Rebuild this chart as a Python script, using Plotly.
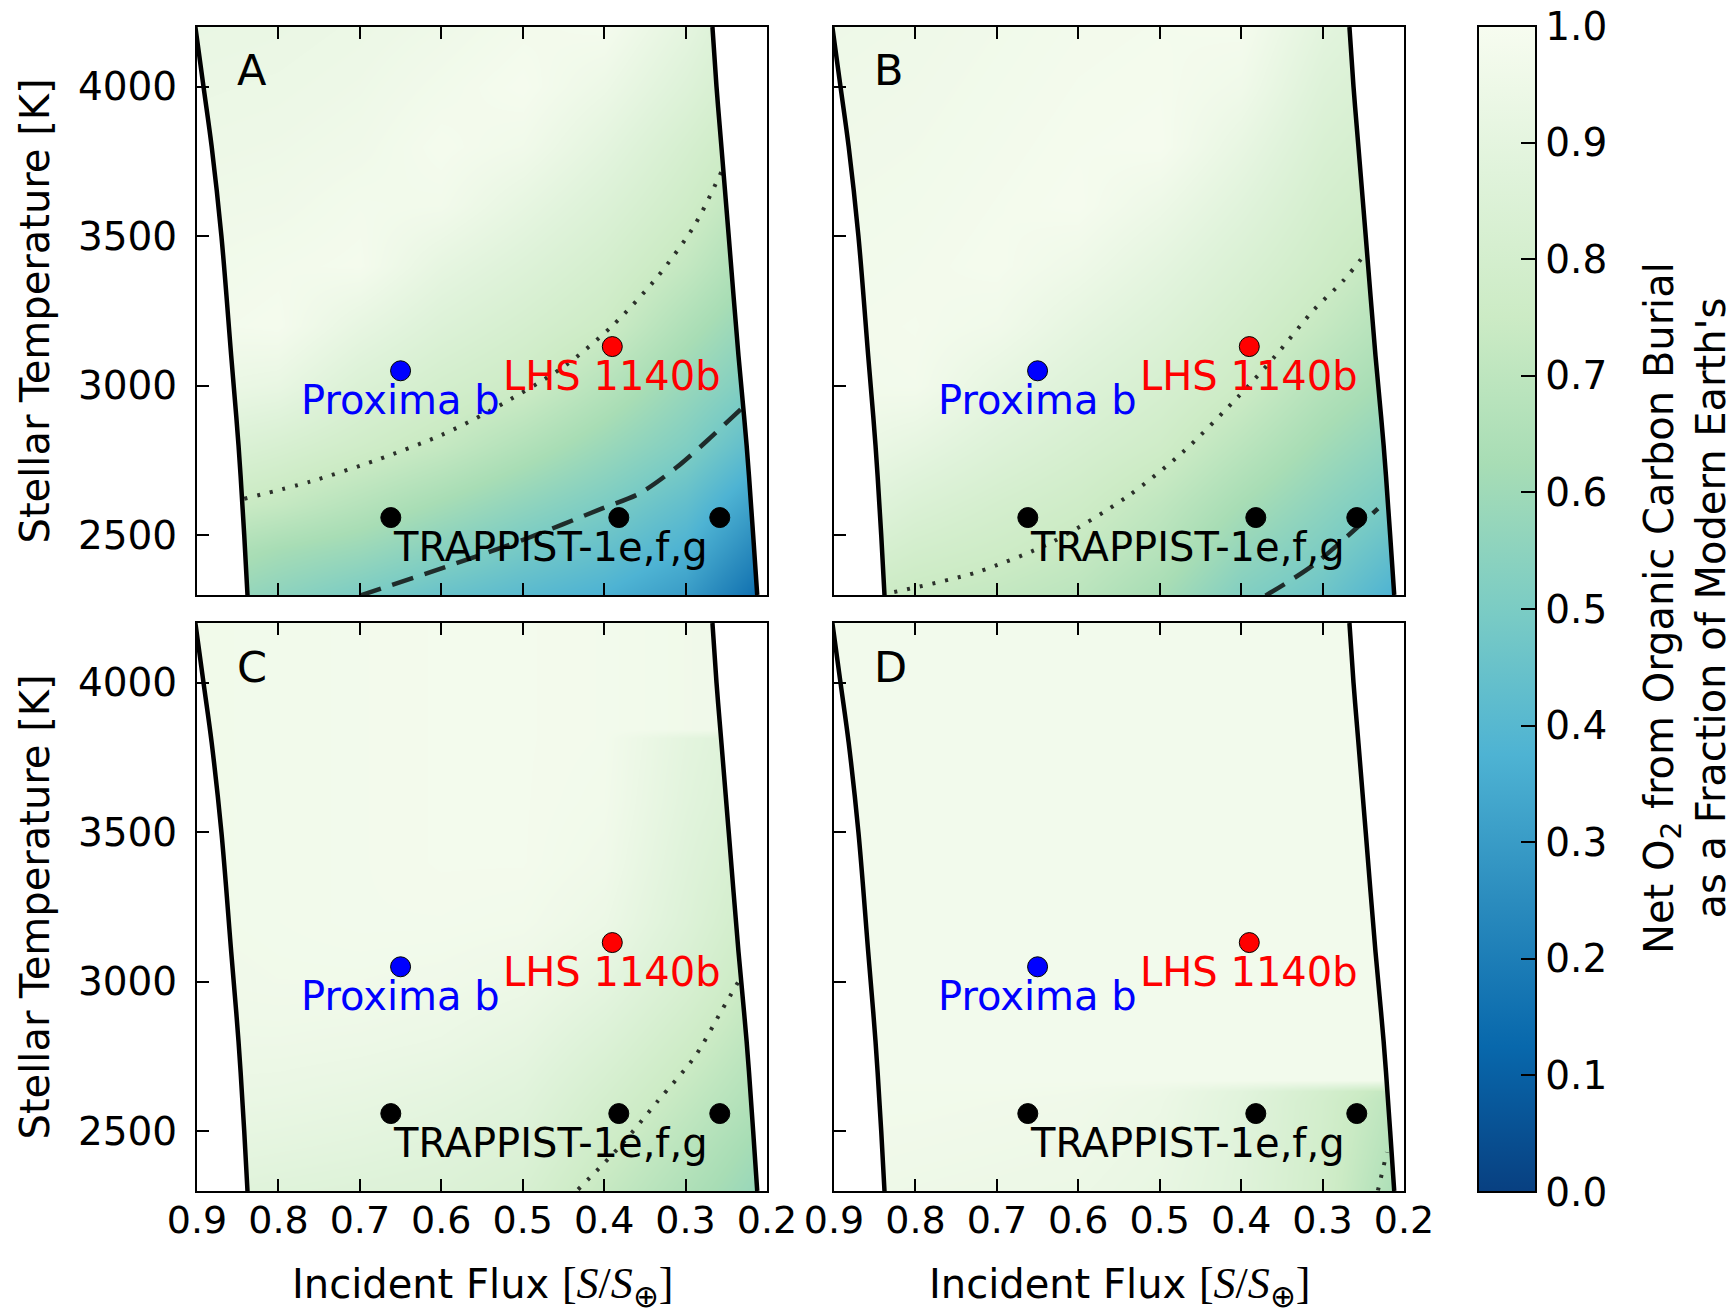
import plotly.graph_objects as go

# the page body adds an 8 px margin; the figure is sized so the page is 1736 x 1313
PAGE_MARGIN = 8
W, H = 1736 - PAGE_MARGIN, 1313 - PAGE_MARGIN


def px_x(v):
    return (v - PAGE_MARGIN) / W


def px_y(v):
    return 1 - (v - PAGE_MARGIN) / H


# ---------------- data ----------------
X_RANGE = [0.9, 0.2]
Y_RANGE = [2300, 4200]
X_TICKS = [0.9, 0.8, 0.7, 0.6, 0.5, 0.4, 0.3, 0.2]
Y_TICKS = [2500, 3000, 3500, 4000]
CB_TICKS = [0.0, 0.1, 0.2, 0.3, 0.4, 0.5, 0.6, 0.7, 0.8, 0.9, 1.0]

FLUX_GRID = [0.9, 0.8, 0.7, 0.6, 0.5, 0.4, 0.3, 0.2]
TEFF_GRID = [2300, 2450, 2600, 2800, 3000, 3200, 3400, 3600, 3800, 4000, 4200]
TEFF_GRID_C = [2300, 2450, 2600, 2800, 3000, 3200, 3400, 3600, 3815, 3845, 4200]
TEFF_GRID_D = [2300, 2450, 2600, 2635, 2670, 2800, 3200, 3600, 4000, 4200]

# rows: Teff (ascending), columns: flux 0.9 -> 0.2
Z_A = [
    [0.60, 0.55, 0.50, 0.45, 0.41, 0.37, 0.30, 0.13],
    [0.67, 0.62, 0.586, 0.533, 0.483, 0.44, 0.37, 0.21],
    [0.76, 0.725, 0.672, 0.616, 0.558, 0.503, 0.43, 0.29],
    [0.86, 0.82, 0.773, 0.725, 0.659, 0.589, 0.515, 0.40],
    [0.94, 0.92, 0.843, 0.795, 0.755, 0.674, 0.58, 0.49],
    [0.975, 0.985, 0.913, 0.853, 0.807, 0.755, 0.65, 0.55],
    [0.965, 0.975, 0.983, 0.91, 0.859, 0.802, 0.72, 0.61],
    [0.955, 0.96, 0.975, 0.97, 0.912, 0.849, 0.77, 0.67],
    [0.945, 0.95, 0.96, 0.985, 0.964, 0.896, 0.81, 0.72],
    [0.935, 0.94, 0.95, 0.97, 0.99, 0.943, 0.86, 0.76],
    [0.925, 0.93, 0.94, 0.955, 0.975, 0.985, 0.90, 0.79],
]
Z_B = [
    [0.77, 0.74, 0.72, 0.69, 0.62, 0.52, 0.463, 0.36],
    [0.84, 0.79, 0.763, 0.73, 0.67, 0.572, 0.507, 0.42],
    [0.90, 0.84, 0.80, 0.766, 0.706, 0.623, 0.55, 0.48],
    [0.95, 0.91, 0.856, 0.813, 0.769, 0.69, 0.609, 0.54],
    [0.97, 0.975, 0.91, 0.86, 0.813, 0.755, 0.667, 0.60],
    [0.975, 0.98, 0.963, 0.907, 0.857, 0.796, 0.726, 0.65],
    [0.97, 0.975, 0.985, 0.954, 0.90, 0.837, 0.77, 0.70],
    [0.965, 0.97, 0.98, 0.99, 0.945, 0.878, 0.80, 0.75],
    [0.96, 0.965, 0.975, 0.985, 0.99, 0.918, 0.83, 0.78],
    [0.955, 0.96, 0.97, 0.98, 0.985, 0.96, 0.86, 0.81],
    [0.95, 0.955, 0.965, 0.975, 0.98, 0.985, 0.89, 0.84],
]
Z_C = [
    [0.88, 0.87, 0.86, 0.85, 0.82, 0.73, 0.65, 0.57],
    [0.91, 0.90, 0.89, 0.875, 0.85, 0.765, 0.685, 0.60],
    [0.93, 0.925, 0.915, 0.90, 0.875, 0.80, 0.72, 0.64],
    [0.95, 0.95, 0.945, 0.935, 0.91, 0.85, 0.77, 0.68],
    [0.96, 0.965, 0.965, 0.96, 0.945, 0.90, 0.82, 0.72],
    [0.965, 0.97, 0.975, 0.975, 0.97, 0.94, 0.855, 0.755],
    [0.965, 0.97, 0.975, 0.98, 0.98, 0.96, 0.87, 0.79],
    [0.965, 0.97, 0.975, 0.98, 0.98, 0.97, 0.885, 0.82],
    [0.965, 0.97, 0.975, 0.98, 0.98, 0.975, 0.895, 0.84],
    [0.965, 0.97, 0.975, 0.98, 0.98, 0.975, 0.965, 0.96],
    [0.965, 0.97, 0.975, 0.98, 0.98, 0.975, 0.965, 0.96],
]
Z_D = [
    [0.955, 0.95, 0.945, 0.94, 0.92, 0.87, 0.78, 0.62],
    [0.965, 0.96, 0.955, 0.95, 0.93, 0.875, 0.785, 0.65],
    [0.97, 0.97, 0.965, 0.96, 0.94, 0.88, 0.79, 0.68],
    [0.97, 0.97, 0.97, 0.965, 0.945, 0.885, 0.80, 0.70],
    [0.975, 0.975, 0.975, 0.975, 0.975, 0.975, 0.975, 0.975],
    [0.975, 0.975, 0.975, 0.975, 0.975, 0.975, 0.975, 0.975],
    [0.975, 0.975, 0.975, 0.975, 0.975, 0.975, 0.975, 0.975],
    [0.975, 0.975, 0.975, 0.975, 0.975, 0.975, 0.975, 0.975],
    [0.975, 0.975, 0.975, 0.975, 0.975, 0.975, 0.975, 0.975],
    [0.975, 0.975, 0.975, 0.975, 0.975, 0.975, 0.975, 0.975],
]

# habitable-zone limits
HZ_TEFF = [2300, 2500, 2800, 3100, 3500, 3800, 4000, 4200]
HZ_INNER_FLUX = [0.838, 0.842, 0.849, 0.858, 0.870, 0.882, 0.892, 0.902]
HZ_OUTER_FLUX = [0.212, 0.217, 0.225, 0.235, 0.247, 0.256, 0.262, 0.267]

# contour lines (dotted = 0.75, dashed = 0.5)
A_DOT_FLUX = [0.842, 0.760, 0.679, 0.600, 0.541, 0.449, 0.389, 0.334, 0.288, 0.256]
A_DOT_TEFF = [2622, 2680, 2752, 2835, 2915, 3065, 3203, 3366, 3541, 3716]
A_DASH_FLUX = [0.700, 0.587, 0.495, 0.403, 0.357, 0.311, 0.274, 0.228]
A_DASH_TEFF = [2298, 2401, 2489, 2589, 2639, 2727, 2815, 2932]
B_DOT_FLUX = [0.826, 0.725, 0.633, 0.541, 0.472, 0.403, 0.357, 0.311, 0.274, 0.246]
B_DOT_TEFF = [2310, 2376, 2476, 2627, 2777, 2965, 3103, 3253, 3353, 3447]
B_DASH_FLUX = [0.370, 0.311, 0.232]
B_DASH_TEFF = [2298, 2401, 2589]
C_DOT_FLUX = [0.432, 0.380, 0.334, 0.288, 0.256, 0.232]
C_DOT_TEFF = [2305, 2451, 2601, 2752, 2902, 3015]
D_DOT_FLUX = [0.232, 0.221]
D_DOT_TEFF = [2302, 2430]

# planets
PLANET_FLUX = [0.65, 0.39, 0.662, 0.382, 0.258]
PLANET_TEFF = [3050, 3131, 2559, 2559, 2559]
PLANET_COLORS = ["#0000ff", "#ff0000", "#000000", "#000000", "#000000"]
LABEL_TEXT = ["Proxima b", "LHS 1140b", "TRAPPIST-1e,f,g"]
LABEL_FLUX = [0.65, 0.39, 0.662]
LABEL_TEFF = [3050, 3131, 2559]
LABEL_COLORS = ["#0000ff", "#ff0000", "#000000"]
LABEL_ANCHOR = ["center", "center", "left"]

PANEL_LETTERS = ["A", "B", "C", "D"]

# ---------------- style / layout ----------------
GNBU = ["#f7fcf0", "#e0f3db", "#ccebc5", "#a8ddb5", "#7bccc4",
        "#4eb3d3", "#2b8cbe", "#0868ac", "#084081"]
COLORSCALE = [[i / 8, c] for i, c in enumerate(reversed(GNBU))]

FONT = "DejaVu Sans"
SERIF = "Liberation Serif"
X_DOMAINS = [[px_x(197), px_x(767)], [px_x(834), px_x(1404)]]
Y_DOMAINS = [[px_y(595), px_y(27)], [px_y(1191), px_y(623)]]

panels = [
    dict(col=0, row=0, teff=TEFF_GRID, z=Z_A,
         dots=(A_DOT_FLUX, A_DOT_TEFF), dashes=(A_DASH_FLUX, A_DASH_TEFF)),
    dict(col=1, row=0, teff=TEFF_GRID, z=Z_B,
         dots=(B_DOT_FLUX, B_DOT_TEFF), dashes=(B_DASH_FLUX, B_DASH_TEFF)),
    dict(col=0, row=1, teff=TEFF_GRID_C, z=Z_C,
         dots=(C_DOT_FLUX, C_DOT_TEFF), dashes=None),
    dict(col=1, row=1, teff=TEFF_GRID_D, z=Z_D,
         dots=(D_DOT_FLUX, D_DOT_TEFF), dashes=None),
]

fig = go.Figure()
annotations = []
layout_axes = {}

for i, p in enumerate(panels):
    n = "" if i == 0 else str(i + 1)
    xa, ya = "x" + n, "y" + n
    fig.add_trace(go.Heatmap(
        x=FLUX_GRID, y=p["teff"], z=p["z"], xaxis=xa, yaxis=ya,
        zmin=0, zmax=1, colorscale=COLORSCALE, zsmooth="best",
        showscale=(i == 0), hoverinfo="skip",
        colorbar=dict(
            x=px_x(1478), xanchor="left", xref="paper",
            y=px_y(609), yanchor="middle", yref="paper",
            len=1166, lenmode="pixels", thickness=58, thicknessmode="pixels",
            xpad=0, ypad=0, outlinecolor="black", outlinewidth=2,
            ticks="inside", ticklen=16, tickwidth=1.5, tickcolor="black",
            tickvals=CB_TICKS, ticktext=["%.1f" % v for v in CB_TICKS],
            ticklabeloverflow="allow",
            tickfont=dict(family=FONT, size=39, color="black"),
        ),
    ))
    # white masks outside the habitable zone
    fig.add_trace(go.Scatter(
        x=HZ_INNER_FLUX + [X_RANGE[0] + 0.05, X_RANGE[0] + 0.05],
        y=HZ_TEFF + [Y_RANGE[1] + 100, Y_RANGE[0] - 100],
        fill="toself", fillcolor="white", mode="lines", line=dict(width=0),
        xaxis=xa, yaxis=ya, showlegend=False, hoverinfo="skip"))
    fig.add_trace(go.Scatter(
        x=HZ_OUTER_FLUX + [X_RANGE[1] - 0.05, X_RANGE[1] - 0.05],
        y=HZ_TEFF + [Y_RANGE[1] + 100, Y_RANGE[0] - 100],
        fill="toself", fillcolor="white", mode="lines", line=dict(width=0),
        xaxis=xa, yaxis=ya, showlegend=False, hoverinfo="skip"))
    if p["dots"]:
        fig.add_trace(go.Scatter(
            x=p["dots"][0], y=p["dots"][1], mode="lines",
            line=dict(color="rgba(15,15,15,0.85)", width=4, dash="3px,10px",
                      shape="spline", smoothing=0.8),
            xaxis=xa, yaxis=ya, showlegend=False, hoverinfo="skip"))
    if p["dashes"]:
        fig.add_trace(go.Scatter(
            x=p["dashes"][0], y=p["dashes"][1], mode="lines",
            line=dict(color="rgba(15,15,15,0.85)", width=4.5, dash="22px,12px",
                      shape="spline", smoothing=0.8),
            xaxis=xa, yaxis=ya, showlegend=False, hoverinfo="skip"))
    for fl in (HZ_INNER_FLUX, HZ_OUTER_FLUX):
        fig.add_trace(go.Scatter(
            x=fl, y=HZ_TEFF, mode="lines",
            line=dict(color="black", width=4.5, shape="spline"),
            xaxis=xa, yaxis=ya, showlegend=False, hoverinfo="skip"))
    fig.add_trace(go.Scatter(
        x=PLANET_FLUX, y=PLANET_TEFF, mode="markers",
        marker=dict(size=20, color=PLANET_COLORS, line=dict(color="black", width=1)),
        xaxis=xa, yaxis=ya, showlegend=False, hoverinfo="skip", cliponaxis=False))
    for t, fx, ty, c, anc in zip(LABEL_TEXT, LABEL_FLUX, LABEL_TEFF, LABEL_COLORS, LABEL_ANCHOR):
        annotations.append(dict(
            x=fx, y=ty, xref=xa, yref=ya, text=t, showarrow=False,
            xanchor=anc, yanchor="top", yshift=-4,
            font=dict(family=FONT, size=40, color=c)))
    annotations.append(dict(
        x=0.066, y=1 - 43.5 / 568, xref=xa + " domain", yref=ya + " domain",
        text=PANEL_LETTERS[i], showarrow=False, xanchor="left", yanchor="middle",
        font=dict(family=FONT, size=43, color="black")))

    bottom = p["row"] == 1
    left = p["col"] == 0
    layout_axes["xaxis" + n] = dict(
        domain=X_DOMAINS[p["col"]], anchor=ya, range=X_RANGE,
        tickvals=X_TICKS, ticktext=["%.1f" % v for v in X_TICKS],
        showticklabels=bottom, ticks="inside", ticklen=12, tickwidth=1.5,
        tickcolor="black", mirror="ticks", showline=True, linecolor="black",
        linewidth=2, showgrid=False, zeroline=False, ticklabelstandoff=-6,
        automargin=False,
        tickfont=dict(family=FONT, size=38, color="black"))
    layout_axes["yaxis" + n] = dict(
        domain=Y_DOMAINS[p["row"]], anchor=xa, range=Y_RANGE,
        tickvals=Y_TICKS, ticktext=[str(v) for v in Y_TICKS],
        showticklabels=left, ticks="inside", ticklen=12, tickwidth=1.5,
        tickcolor="black", mirror=True, showline=True, linecolor="black",
        linewidth=2, showgrid=False, zeroline=False, ticklabelstandoff=10,
        automargin=False,
        tickfont=dict(family=FONT, size=39, color="black"))

for r in range(2):
    yd = Y_DOMAINS[r]
    annotations.append(dict(
        x=px_x(34.5), y=(yd[0] + yd[1]) / 2, xref="paper", yref="paper",
        text="Stellar Temperature [K]", textangle=-90, showarrow=False,
        xanchor="center", yanchor="middle",
        font=dict(family=FONT, size=40, color="black")))
for c in range(2):
    xd = X_DOMAINS[c]
    annotations.append(dict(
        x=(xd[0] + xd[1]) / 2, y=px_y(1286), xref="paper", yref="paper",
        text=("Incident Flux <span style=\"font-family:'%s';font-size:44px\">[<i>S</i>/<i>S</i>"
              "<sub>⊕</sub>]</span>" % SERIF),
        showarrow=False, xanchor="center", yanchor="middle",
        font=dict(family=FONT, size=40, color="black")))

annotations.append(dict(
    x=px_x(1685), y=px_y(608), xref="paper", yref="paper",
    text="Net O<sub>2</sub> from Organic Carbon Burial<br>as a Fraction of Modern Earth's",
    textangle=-90, showarrow=False, xanchor="center", yanchor="middle",
    font=dict(family=FONT, size=40, color="black")))

fig.update_layout(
    width=W, height=H, margin=dict(l=0, r=0, t=0, b=0, autoexpand=False),
    paper_bgcolor="white", plot_bgcolor="white",
    font=dict(family=FONT, color="black"),
    annotations=annotations, showlegend=False,
    **layout_axes)

fig.write_html("out.html")
